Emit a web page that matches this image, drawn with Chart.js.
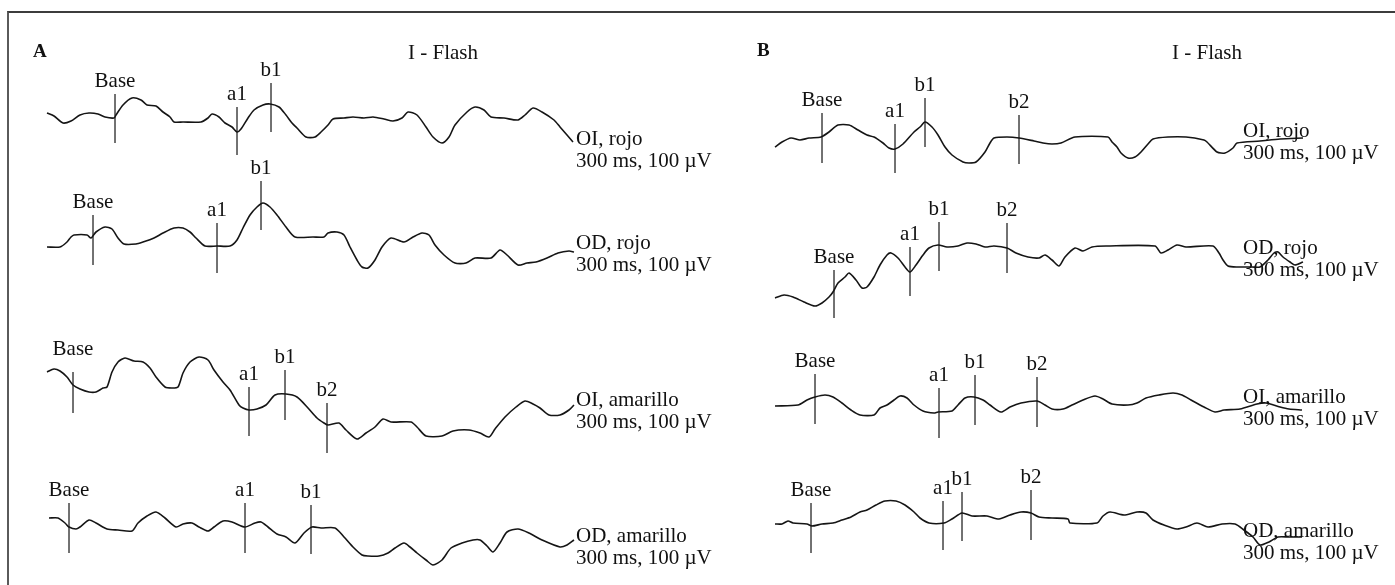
<!DOCTYPE html>
<html>
<head>
<meta charset="utf-8">
<script src="https://cdn.jsdelivr.net/npm/chart.js@4.4.1/dist/chart.umd.min.js"></script>
<style>
  html, body { margin: 0; padding: 0; background: #fff; }
  #wrap { position: relative; width: 1395px; height: 585px; overflow: hidden; }
  #wrap canvas { position: absolute; left: 0; top: 0; }
  #frame { position: absolute; left: 7px; top: 11px; right: -5px; bottom: -5px;
           border-top: 2px solid #3c3c3c; border-left: 2px solid #5a5a5a; }
</style>
</head>
<body>
<div id="wrap">
  <canvas id="erg" width="1395" height="585"></canvas>
  <div id="frame"></div>
</div>
<script>
// ---- data ----
const panels = ['A', 'B'];
const title = 'I - Flash';
const traceNames = ['OI, rojo', 'OD, rojo', 'OI, amarillo', 'OD, amarillo'];
const calib = '300 ms, 100 µV';

// traces: [time ms, amplitude µV]
const A1 = [[0,2],[3.5,-1],[8,-8],[12,-6],[16.5,0],[21,2],[25.5,1],[29,-2],[33.5,-3],[34.5,0],[38,10],[42.5,17],[47,15],[50,10],[54.5,9],[58,3],[61.5,-2],[63.5,-7],[68,-7],[77,-7],[80.5,-3],[82.5,1],[86,-2],[89,-8],[92.5,-12],[95,-17],[97,-14],[100.5,-3],[103.5,5],[108,10],[111.5,11],[116,8],[119.5,0],[122.5,-8],[125,-13],[129.5,-22],[134,-22],[137,-17],[140.5,-10],[143,-4],[148.5,-3],[153,-2],[158.5,-3],[163,-2],[168.5,-4],[173,-6],[177.5,-3],[180.5,3],[185,0],[189.5,-12],[193,-22],[197.5,-28],[201,-22],[204,-10],[210,3],[214,8],[218.5,5],[222,-2],[228.5,-3],[235.5,-5],[239,0],[243,7],[247.5,3],[253.5,-5],[256.5,-12],[260,-20],[263,-27]];
const A2 = [[0,0],[6.5,0],[10,5],[12,10],[13.5,12],[20,12],[22,9],[24.5,15],[29,20],[32.5,18],[35.5,9],[38.5,3],[44.5,3],[48,5],[53.5,9],[58,14],[63.5,19],[68,19],[71.5,15],[74.5,9],[79,1],[85,1],[91.5,1],[95,7],[98,19],[101.5,32],[105,40],[108,44],[111.5,40],[115,32],[119.5,20],[124,10],[133,10],[138.5,10],[140.5,14],[145,15],[148.5,12],[151.5,0],[155,-13],[157.5,-20],[160.5,-21],[164,-13],[167.5,0],[172,9],[178.5,5],[183,10],[187.5,14],[191,12],[194,2],[198.5,-8],[204,-16],[209.5,-16],[214,-11],[222,-11],[226.5,-3],[230,-8],[235.5,-18],[240,-16],[244.5,-15],[250,-11],[255.5,-6],[261,-4],[263.5,-5]];
const A3 = [[0,0],[3.5,3],[6.5,1],[10,-5],[13,-13],[16.5,-17],[21,-20],[24.5,-20],[28,-16],[30,-15],[32.5,0],[35.5,10],[39,14],[43.5,11],[48,10],[51.5,4],[54.5,-5],[59,-15],[62.5,-16],[65.5,-15],[68,-1],[71.5,10],[76,15],[80.5,12],[83.5,2],[88,-10],[91.5,-18],[96,-33],[98,-36],[101,-38],[105,-37],[109.5,-33],[114,-23],[119.5,-22],[125,-25],[130.5,-36],[135,-46],[138.5,-51],[140.5,-53],[146,-51],[149.5,-58],[155,-67],[159.5,-61],[164,-55],[168,-47],[172,-50],[182,-50],[185,-55],[189.5,-64],[197.5,-64],[203,-59],[211,-58],[216.5,-61],[221,-65],[224,-57],[229,-45],[234.5,-35],[239,-29],[243,-32],[246.5,-36],[251,-43],[256.5,-43],[261,-38],[263.5,-33]];
const A4 = [[1,0],[5.5,0],[9,-5],[11,-9],[14.5,-11],[16.5,-9],[21,-2],[24.5,-5],[30,-11],[35.5,-12],[42.5,-13],[45.5,-5],[50,2],[54.5,6],[59,0],[64.5,-9],[68,-6],[72.5,-5],[76,-9],[80.5,-13],[83.5,-9],[88,-3],[92.5,-4],[99,-9],[104,-5],[107,-4],[110.5,-9],[115,-16],[119.5,-19],[124,-25],[128.5,-15],[132.5,-9],[137,-10],[144,-10],[148.5,-19],[153,-29],[157.5,-37],[160.5,-38],[166,-38],[170.5,-35],[174,-30],[178.5,-25],[181.5,-29],[185,-35],[189.5,-42],[193,-47],[197.5,-42],[202,-30],[207.5,-25],[213,-22],[216.5,-22],[220,-28],[223,-34],[226.5,-25],[230,-14],[235.5,-11],[241,-15],[247.5,-22],[256.5,-29],[260,-27],[263.5,-22]];
const B1 = [[0,-7],[3.5,-2],[8,2],[12.5,0],[17,2],[23,3],[27,8],[31.5,15],[37,15],[41.5,10],[46,5],[49.5,3],[54,-3],[57,-8],[60,-9],[64,-4],[69.5,8],[72.5,13],[75,18],[78.5,13],[81.5,5],[85,-7],[88.5,-15],[94,-22],[97,-23],[100.5,-22],[105,-12],[107.5,-3],[109.5,2],[116,3],[122,2],[129.5,-1],[134,-3],[138.5,-4],[143,-3],[150,3],[166.5,3],[168.5,-2],[171,-7],[173,-13],[176.5,-18],[180,-17],[183,-12],[186.5,-4],[189,1],[196.5,3],[205.5,3],[214.5,0],[216,-2],[221,-12],[225,-13],[229,-8],[231,-3],[242.5,-1],[252.5,1],[264,2]];
const B2 = [[0,-36],[4.5,-33],[9,-35],[14.5,-40],[20,-44],[23.5,-41],[27,-35],[29,-30],[31.5,-21],[35,-15],[37,-11],[40.5,-18],[43.5,-26],[46,-25],[49.5,-15],[52.5,-3],[56,7],[58,9],[61.5,4],[65,-5],[67.5,-10],[70.5,-3],[74,7],[77,14],[81.5,17],[86,15],[91.5,16],[96,19],[100.5,18],[105,15],[109.5,16],[116,14],[120.5,9],[126.5,5],[132,4],[135,7],[138.5,2],[142,-4],[145,5],[150,14],[154,11],[158.5,15],[165.5,16],[190,16],[193,9],[196.5,12],[201,17],[205.5,15],[219,16],[222,9],[224,2],[226.5,-4],[231.5,-5],[238.5,-5],[242.5,-5],[246.5,2],[249.5,9],[251.5,10],[254,5],[257.5,0],[260,-3],[264,0]];
const B3 = [[0,-1],[11.5,0],[16,5],[20,8],[25,10],[29,8],[33.5,2],[38,-5],[42.5,-10],[49.5,-10],[52.5,-3],[56,0],[59.5,5],[62.5,9],[66,7],[69.5,0],[74,-6],[79.5,-8],[81.5,-7],[88.5,-6],[91.5,0],[95,7],[99.5,8],[104,5],[107.5,0],[113,-7],[117.5,-2],[123,2],[131,4],[135,0],[138.5,-4],[144,-4],[148.5,0],[154,5],[160,9],[164,6],[168.5,1],[176.5,0],[181,2],[185.5,7],[192,10],[199,12],[203.5,10],[208,5],[214.5,-2],[220,-7],[224.5,-5],[232.5,-4],[241,1],[245.5,2],[252.5,-2],[257,-4],[263.5,-5]];
const B4 = [[0,1],[3.5,1],[6.5,4],[9,2],[16,1],[18.5,-1],[23.5,1],[29,2],[33.5,5],[38,8],[42.5,13],[46,15],[50.5,20],[55,24],[60.5,24],[65,20],[69.5,13],[72.5,7],[77,2],[84.5,2],[88.5,6],[93.5,12],[98.5,9],[106,9],[112,6],[117.5,10],[123,13],[128,12],[132,8],[138.5,7],[146.5,6],[147.5,2],[161,2],[164,9],[167.5,13],[174.5,10],[181,13],[185.5,12],[189,5],[194.5,0],[201,-4],[205.5,-2],[211,2],[216.5,-2],[223.5,1],[230,1],[234.5,-5],[239,-12],[242.5,-20],[247,-17],[251.5,-12],[257,-12],[263.5,-12]];

// markers: [name, time ms, top µV, bottom µV]
const A1m = [['Base',34,21,-28],['a1',95,8,-40],['b1',112,32,-17]];
const A2m = [['Base',23,32,-18],['a1',85,24,-26],['b1',107,66,17]];
const A3m = [['Base',13,0,-41],['a1',101,-15,-64],['b1',119,2,-48],['b2',140,-31,-81]];
const A4m = [['Base',11,15,-35],['a1',99,15,-35],['b1',132,13,-36]];
const B1m = [['Base',23.5,27,-23],['a1',60,16,-33],['b1',75,42,-7],['b2',122,25,-24]];
const B2m = [['Base',29.5,-8,-56],['a1',67.5,15,-34],['b1',82,40,-9],['b2',116,39,-11]];
const B3m = [['Base',20,31,-19],['a1',82,17,-33],['b1',100,30,-20],['b2',131,28,-22]];
const B4m = [['Base',18,22,-28],['a1',84,24,-25],['b1',93.5,33,-16],['b2',128,35,-15]];

const traces = { A: [A1, A2, A3, A4], B: [B1, B2, B3, B4] };
const marks = { A: [A1m, A2m, A3m, A4m], B: [B1m, B2m, B3m, B4m] };

// ---- layout ----
const W = 1395, H = 585;
const pxPerMs = 2;
const startPx = { A: 47, B: 775 };
const rowPx = { A: [115, 247, 372, 518], B: [140, 262, 405, 525] };
const nameT = { A: 264.5, B: 234 };
const nameDy = { A: [30, 2, 34, 24], B: [-3, -8, -2, 12] };
const letterPos = { A: [33, 57], B: [757, 56] };
const titlePos = { A: [408, 59], B: [1172, 59] };
const markGap = 7;
const extraLift = { A: [[0, 0, 0], [0, 0, 0], [10, 0, 0, 0], [0, 0, 0]], B: [[0,0,0,0],[0,0,0,0],[0,0,0,0],[0,0,0,0]] };
const serif = '"Liberation Serif", "Times New Roman", serif';

const datasets = [];
panels.forEach(function (p) {
    traces[p].forEach(function (tr, i) {
        const off = -rowPx[p][i];
        datasets.push({
            data: tr.map(d => ({ x: d[0], y: off + d[1] })),
            xAxisID: 'x' + p,
            showLine: true,
            borderColor: '#151515',
            borderWidth: 1.6,
            tension: 0.25,
            pointRadius: 0
        });
        marks[p][i].forEach(function (m) {
            datasets.push({
                data: [{ x: m[1], y: off + m[2] }, { x: m[1], y: off + m[3] }],
                xAxisID: 'x' + p,
                showLine: true,
                borderColor: '#5e5e5e',
                borderWidth: 1,
                tension: 0,
                pointRadius: 0
            });
        });
    });
});

const textPlugin = {
    id: 'ergText',
    afterDatasetsDraw(chart) {
        const ctx = chart.ctx;
        const ys = chart.scales.y;
        ctx.save();
        ctx.fillStyle = '#111';
        ctx.textBaseline = 'alphabetic';
        panels.forEach(function (p) {
            const xs = chart.scales['x' + p];
            ctx.textAlign = 'left';
            ctx.font = 'bold 19px ' + serif;
            ctx.fillText(p, letterPos[p][0], letterPos[p][1]);
            ctx.font = '21px ' + serif;
            ctx.fillText(title, titlePos[p][0], titlePos[p][1]);

            traces[p].forEach(function (tr, i) {
                const off = -rowPx[p][i];
                ctx.textAlign = 'center';
                marks[p][i].forEach(function (m, j) {
                    const px = xs.getPixelForValue(m[1]);
                    const top = ys.getPixelForValue(off + m[2]);
                    ctx.fillText(m[0], px, top - markGap - extraLift[p][i][j]);
                });
                ctx.textAlign = 'left';
                const lx = xs.getPixelForValue(nameT[p]);
                const ly = ys.getPixelForValue(off - nameDy[p][i]);
                ctx.fillText(traceNames[i], lx, ly);
                ctx.fillText(calib, lx, ly + 22);
            });
        });
        ctx.restore();
    }
};

new Chart(document.getElementById('erg'), {
    type: 'scatter',
    data: { datasets: datasets },
    options: {
        responsive: false,
        animation: false,
        devicePixelRatio: 1,
        layout: { padding: 0 },
        plugins: { legend: { display: false }, tooltip: { enabled: false } },
        events: [],
        scales: {
            xA: { type: 'linear', axis: 'x', display: false, min: -startPx.A / pxPerMs, max: (W - startPx.A) / pxPerMs },
            xB: { type: 'linear', axis: 'x', display: false, min: -startPx.B / pxPerMs, max: (W - startPx.B) / pxPerMs },
            y: { type: 'linear', display: false, min: -H, max: 0 }
        }
    },
    plugins: [textPlugin]
});
</script>
</body>
</html>
